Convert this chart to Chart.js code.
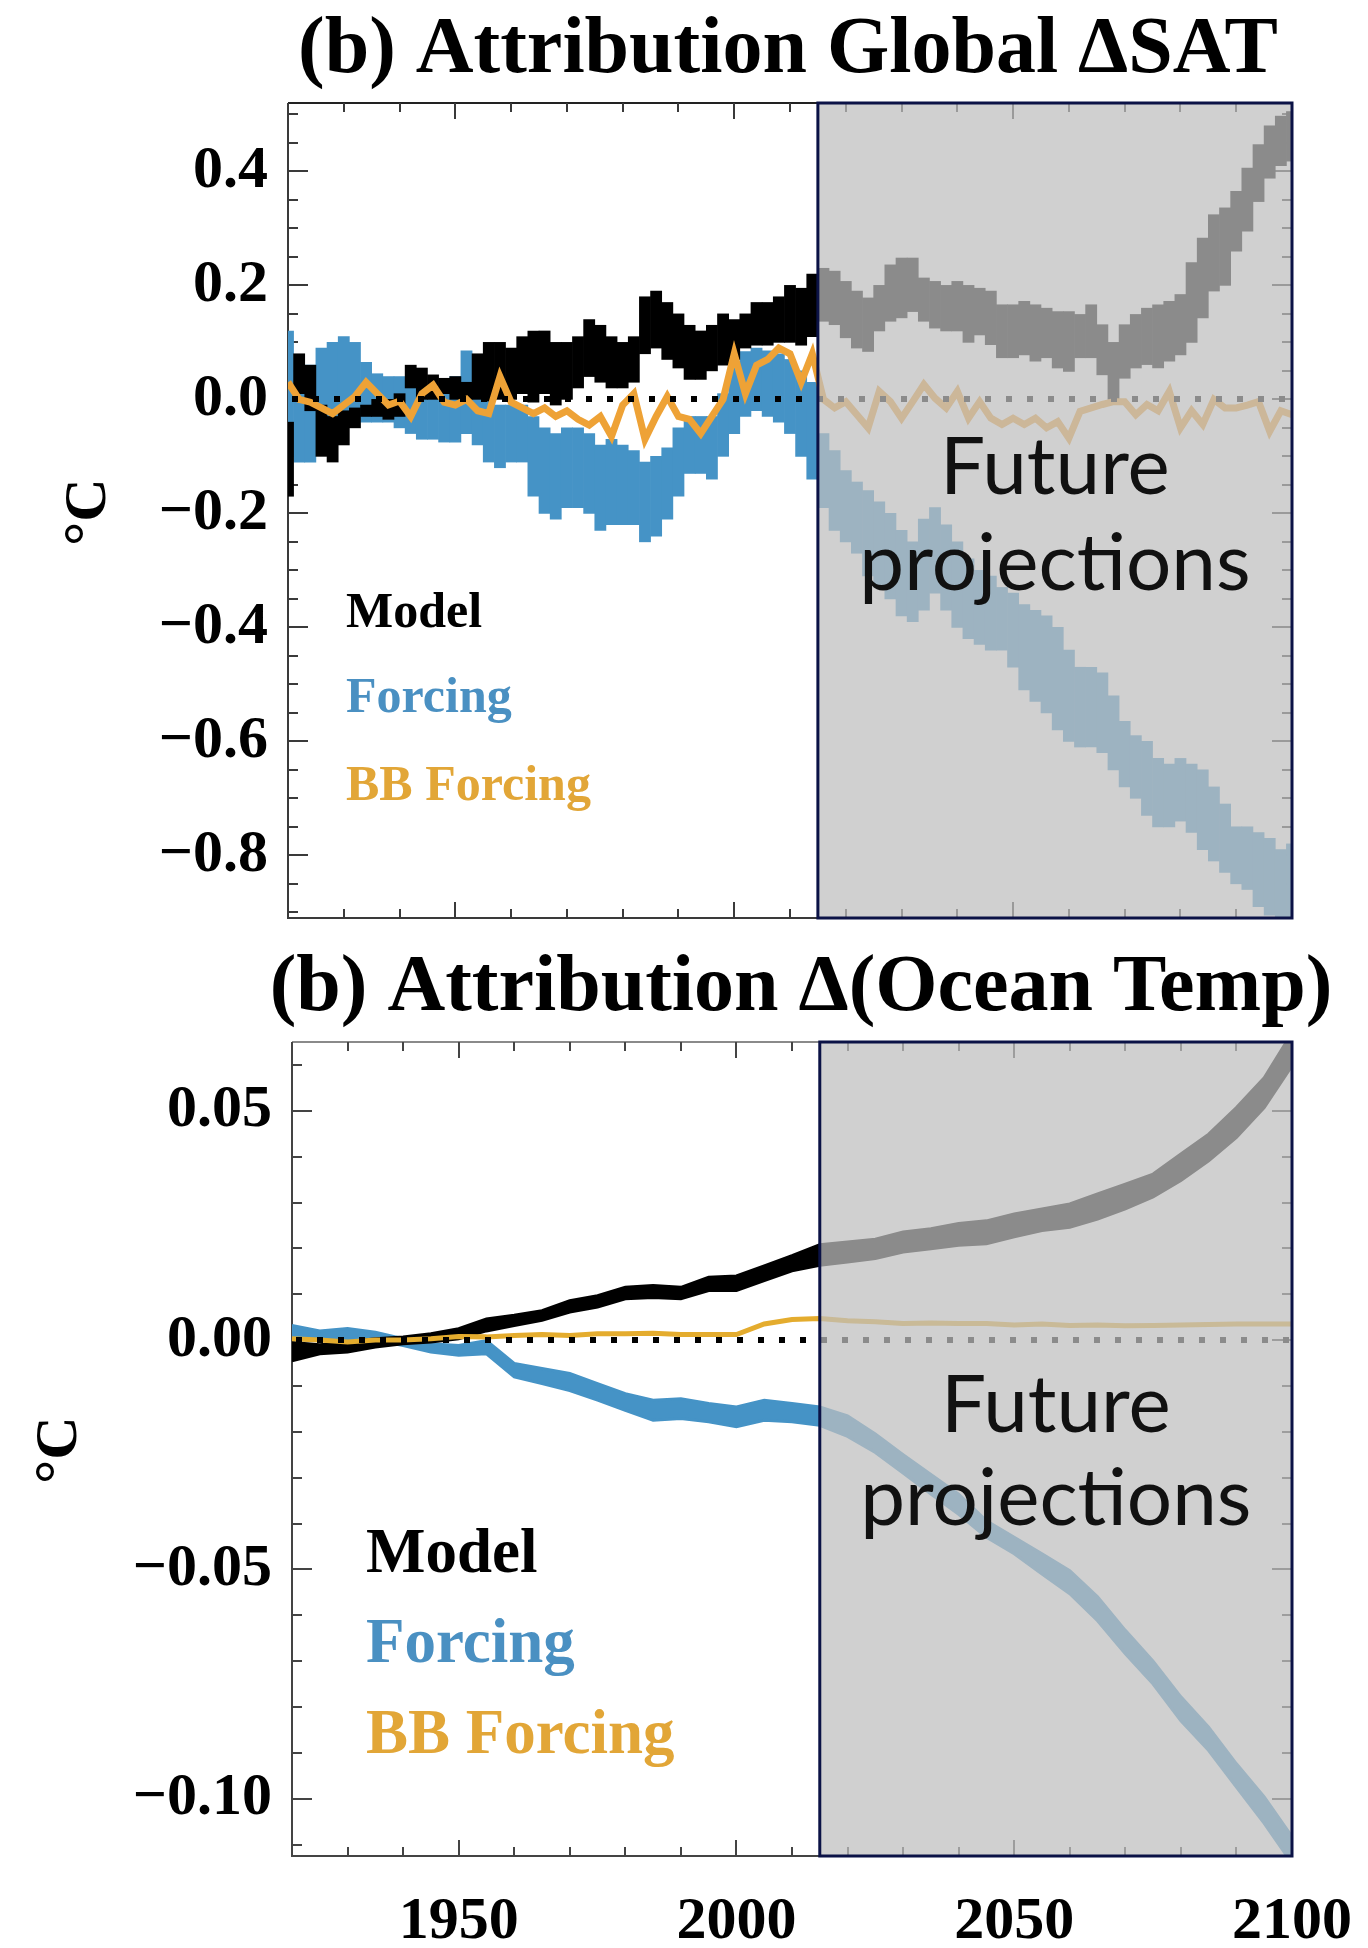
<!DOCTYPE html>
<html>
<head>
<meta charset="utf-8">
<title>Attribution Global ΔSAT and Δ(Ocean Temp)</title>
<script src="https://cdn.jsdelivr.net/npm/chart.js@4.4.1/dist/chart.umd.min.js"></script>
<style>
  html, body { margin: 0; padding: 0; background: #ffffff; }
  #page { position: relative; width: 1368px; height: 1948px; overflow: hidden; background: #ffffff; }
  #satCanvas { position: absolute; left: 0; top: 0; }
  #oceanCanvas { position: absolute; left: 0; top: 930px; }
</style>
</head>
<body>
<div id="page">
  <canvas id="satCanvas" width="1368" height="930"></canvas>
  <canvas id="oceanCanvas" width="1368" height="1018"></canvas>
</div>
<script>
// ---------- Global surface air temperature attribution (2-year steps, °C) ----------
const SAT_YEARS = [
  1920,1922,1924,1926,1928,1930,1932,1934,1936,1938,
  1940,1942,1944,1946,1948,1950,1952,1954,1956,1958,
  1960,1962,1964,1966,1968,1970,1972,1974,1976,1978,
  1980,1982,1984,1986,1988,1990,1992,1994,1996,1998,
  2000,2002,2004,2006,2008,2010,2012,2014,2016,2018,
  2020,2022,2024,2026,2028,2030,2032,2034,2036,2038,
  2040,2042,2044,2046,2048,2050,2052,2054,2056,2058,
  2060,2062,2064,2066,2068,2070,2072,2074,2076,2078,
  2080,2082,2084,2086,2088,2090,2092,2094,2096,2098,
  2100
];
const SAT_MODEL_LO = [
  -0.17, 0.01, -0.02, -0.10, -0.11, -0.08, -0.05, -0.03, -0.03, -0.035,
  -0.03, 0.02, 0.0, 0.0, 0.01, 0.0, 0.0, 0.0, -0.003, 0.0,
  0.0, 0.01, -0.005, 0.01, -0.01, 0.0, 0.02, 0.04, 0.03, 0.02,
  0.02, 0.03, 0.08, 0.09, 0.07, 0.055, 0.035, 0.035, 0.05, 0.06,
  0.07, 0.09, 0.095, 0.095, 0.10, 0.10, 0.095, 0.11, 0.137, 0.131,
  0.108, 0.09, 0.084, 0.12, 0.137, 0.143, 0.154, 0.137, 0.125, 0.12,
  0.12, 0.10, 0.113, 0.096, 0.073, 0.073, 0.078, 0.067, 0.073, 0.055,
  0.049, 0.073, 0.073, 0.043, 0.0, 0.037, 0.055, 0.061, 0.055, 0.067,
  0.078, 0.10, 0.143, 0.19, 0.20, 0.26, 0.295, 0.347, 0.388, 0.41,
  0.418
];
const SAT_MODEL_HI = [
  -0.04, 0.08, 0.06, -0.01, -0.03, -0.02, -0.015, -0.01, 0.0, 0.0,
  0.01, 0.06, 0.055, 0.043, 0.037, 0.04, 0.03, 0.08, 0.10, 0.10,
  0.09, 0.11, 0.12, 0.12, 0.10, 0.10, 0.11, 0.14, 0.13, 0.11,
  0.10, 0.11, 0.18, 0.19, 0.17, 0.15, 0.13, 0.12, 0.13, 0.15,
  0.14, 0.15, 0.17, 0.17, 0.18, 0.20, 0.195, 0.22, 0.23, 0.225,
  0.207, 0.19, 0.178, 0.20, 0.236, 0.248, 0.248, 0.213, 0.207, 0.20,
  0.207, 0.20, 0.195, 0.19, 0.166, 0.166, 0.172, 0.166, 0.160, 0.154,
  0.154, 0.149, 0.166, 0.131, 0.10, 0.131, 0.149, 0.16, 0.166, 0.172,
  0.184, 0.24, 0.283, 0.324, 0.336, 0.365, 0.406, 0.447, 0.48, 0.497,
  0.505
];
const SAT_FORCING_LO = [
  -0.10, -0.11, -0.11, -0.04, -0.04, -0.03, -0.03, -0.04, -0.04, -0.04,
  -0.05, -0.06, -0.07, -0.07, -0.075, -0.075, -0.06, -0.08, -0.11, -0.12,
  -0.11, -0.11, -0.17, -0.20, -0.21, -0.19, -0.19, -0.20, -0.23, -0.22,
  -0.22, -0.22, -0.25, -0.24, -0.21, -0.17, -0.13, -0.13, -0.14, -0.10,
  -0.06, -0.03, -0.02, -0.03, -0.04, -0.06, -0.10, -0.14, -0.19, -0.23,
  -0.25, -0.27, -0.31, -0.33, -0.35, -0.38, -0.39, -0.37, -0.34, -0.37,
  -0.40, -0.42, -0.43, -0.44, -0.44, -0.47, -0.51, -0.53, -0.55, -0.58,
  -0.60, -0.61, -0.61, -0.62, -0.65, -0.68, -0.70, -0.73, -0.75, -0.75,
  -0.74, -0.76, -0.79, -0.81, -0.83, -0.85, -0.86, -0.89, -0.905, -0.91,
  -0.91
];
const SAT_FORCING_HI = [
  0.12, 0.05, 0.06, 0.09, 0.10, 0.11, 0.10, 0.065, 0.045, 0.04,
  0.04, 0.03, 0.02, 0.02, 0.02, 0.04, 0.085, 0.04, 0.0, -0.01,
  -0.01, -0.01, -0.03, -0.05, -0.06, -0.05, -0.05, -0.06, -0.08, -0.07,
  -0.08, -0.09, -0.11, -0.10, -0.085, -0.05, -0.03, -0.03, -0.03, 0.01,
  0.055, 0.084, 0.09, 0.085, 0.08, 0.07, 0.05, 0.03, -0.06, -0.09,
  -0.125, -0.145, -0.16, -0.18, -0.20, -0.23, -0.25, -0.21, -0.19, -0.22,
  -0.25, -0.28, -0.30, -0.31, -0.33, -0.34, -0.36, -0.37, -0.38, -0.40,
  -0.44, -0.47, -0.47, -0.48, -0.52, -0.565, -0.59, -0.60, -0.63, -0.64,
  -0.63, -0.64, -0.65, -0.68, -0.71, -0.75, -0.75, -0.76, -0.77, -0.79,
  -0.78
];
const SAT_BB = [
  0.03, 0.0, -0.005, -0.015, -0.025, -0.01, 0.005, 0.03, 0.01, -0.01,
  -0.003, -0.03, 0.01, 0.025, -0.005, -0.01, 0.0, -0.02, -0.025, 0.04,
  -0.005, -0.015, -0.025, -0.015, -0.03, -0.02, -0.035, -0.045, -0.03, -0.065,
  -0.01, 0.01, -0.07, -0.03, 0.005, -0.03, -0.035, -0.06, -0.03, 0.0,
  0.08, 0.01, 0.06, 0.07, 0.09, 0.08, 0.03, 0.08, 0.0, -0.015,
  -0.004, -0.027, -0.05, 0.014, -0.004, -0.033, -0.004, 0.026, 0.002, -0.015,
  0.014, -0.033, -0.004, -0.033, -0.044, -0.033, -0.044, -0.033, -0.05, -0.039,
  -0.068, -0.021, -0.015, -0.009, -0.004, -0.004, -0.027, -0.009, -0.02, 0.014,
  -0.05, -0.02, -0.044, 0.0, -0.015, -0.015, -0.01, -0.004, -0.056, -0.02,
  -0.027
];
const SAT_Y_LABELS = [0.4, 0.2, 0.0, -0.2, -0.4, -0.6, -0.8];

// ---------- Ocean temperature attribution (5-year steps, °C) ----------
const OCN_YEARS = [
  1920,1925,1930,1935,1940,1945,1950,1955,1960,1965,
  1970,1975,1980,1985,1990,1995,2000,2005,2010,2015,
  2020,2025,2030,2035,2040,2045,2050,2055,2060,2065,
  2070,2075,2080,2085,2090,2095,2100
];
const OCN_MODEL_LO = [
  -0.0045, -0.003, -0.0026, -0.0015, -0.0008, -0.0004, 0.0003, 0.002, 0.0032, 0.0043,
  0.0061, 0.0072, 0.009, 0.0093, 0.009, 0.0108, 0.0108, 0.013, 0.0151, 0.0163,
  0.017, 0.0178, 0.0192, 0.0199, 0.0207, 0.021, 0.0225, 0.0239, 0.0246, 0.0264,
  0.0286, 0.0312, 0.0348, 0.0391, 0.0442, 0.0507, 0.0598
];
const OCN_MODEL_HI = [
  -0.0005, -0.001, -0.0004, 0.0003, 0.0007, 0.0014, 0.0025, 0.0046, 0.0054, 0.0064,
  0.0086, 0.0097, 0.0115, 0.0119, 0.0115, 0.0137, 0.014, 0.0162, 0.0184, 0.0208,
  0.0214, 0.022, 0.0236, 0.0243, 0.0254, 0.026, 0.0275, 0.0286, 0.0297, 0.0319,
  0.034, 0.0362, 0.0406, 0.0449, 0.0507, 0.0572, 0.067
];
const OCN_FORCING_LO = [
  0.0, 0.0, 0.0003, 0.0, -0.0012, -0.0026, -0.0033, -0.003, -0.008, -0.0095,
  -0.011, -0.0131, -0.0153, -0.0175, -0.0171, -0.0178, -0.0189, -0.0175, -0.0178, -0.0186,
  -0.021, -0.0245, -0.029, -0.0336, -0.038, -0.043, -0.0466, -0.051, -0.0553, -0.0612,
  -0.0684, -0.075, -0.083, -0.0895, -0.0975, -0.1054, -0.1141
];
const OCN_FORCING_HI = [
  0.0032, 0.002, 0.0025, 0.0017, 0.0003, -0.0008, -0.0012, -0.0001, -0.0051, -0.0062,
  -0.0073, -0.0095, -0.0117, -0.0131, -0.0128, -0.0138, -0.0146, -0.0131, -0.0138, -0.0146,
  -0.0165, -0.0205, -0.025, -0.0293, -0.0336, -0.0394, -0.043, -0.0466, -0.0503, -0.056,
  -0.0633, -0.07, -0.0778, -0.0844, -0.0924, -0.0996, -0.1083
];
const OCN_BB = [
  0.0003, 0.0, -0.0004, 0.0, 0.0, 0.0003, 0.0008, 0.0007, 0.001, 0.0012,
  0.001, 0.0014, 0.0014, 0.0015, 0.0012, 0.0012, 0.0012, 0.0035, 0.0045, 0.0047,
  0.0042, 0.004, 0.0036, 0.0037, 0.0036, 0.0036, 0.0033, 0.0035, 0.0032, 0.0033,
  0.0031, 0.0032, 0.0033, 0.0034, 0.0035, 0.0035, 0.0035
];
const OCN_Y_LABELS = [0.05, 0.0, -0.05, -0.10];

// ---------- shared ----------
const SERIES_NAMES = ['Model', 'Forcing', 'BB Forcing'];
const X_LABEL_YEARS = [1950, 2000, 2050, 2100];
const FUTURE_START = 2015;
const FUTURE_LINES = ['Future', 'projections'];

const COLORS = {
  model: '#000000',
  forcing: '#4593c6',
  bbSat: '#eea236',
  bbOcean: '#e4ac2e',
  forcingText: '#4a90c2',
  bbText: '#e2a637'
};
const SERIF = '"Liberation Serif", "Times New Roman", serif';

function fmt(v, digits) {
  return (v < -1e-9 ? '\u2212' : '') + Math.abs(v).toFixed(digits);
}

// positions of the inward tick marks along an axis
function tickMarks(lo, hi, step, majorEvery) {
  const out = [];
  for (let k = Math.ceil(lo / step - 1e-9); k * step <= hi + 1e-9; k++) {
    out.push({ v: k * step, major: k % majorEvery === 0 });
  }
  return out;
}

// frame, inward ticks, zero line, shaded future period and all annotation text
function makeDecor(p) {
  return {
    id: 'decor_' + p.id,
    beforeDatasetsDraw(chart) {
      const { ctx, chartArea: a, scales: { x, y } } = chart;
      const xf = x.getPixelForValue(FUTURE_START);
      ctx.save();
      ctx.lineWidth = 2;
      ctx.strokeStyle = p.axisColor;
      ctx.beginPath();
      ctx.moveTo(a.left, a.top); ctx.lineTo(a.left, a.bottom);
      ctx.lineTo(xf, a.bottom);
      ctx.stroke();
      ctx.strokeStyle = p.topColor;
      ctx.beginPath();
      ctx.moveTo(a.left, a.top); ctx.lineTo(xf, a.top);
      ctx.stroke();

      ctx.strokeStyle = p.tickColor;
      ctx.lineWidth = 2;
      ctx.beginPath();
      p.yTicks.forEach(t => {
        const py = Math.round(y.getPixelForValue(t.v));
        if (py < a.top || py > a.bottom) return;
        const len = t.major ? 20 : 10;
        ctx.moveTo(a.left, py); ctx.lineTo(a.left + len, py);
        ctx.moveTo(a.right, py); ctx.lineTo(a.right - len, py);
      });
      p.xTicks.forEach(t => {
        const px = Math.round(x.getPixelForValue(t.v));
        const len = t.major ? 16 : 9;
        ctx.moveTo(px, a.top); ctx.lineTo(px, a.top + len);
        ctx.moveTo(px, a.bottom); ctx.lineTo(px, a.bottom - len);
      });
      ctx.stroke();
      ctx.restore();
    },
    afterDatasetsDraw(chart) {
      const { ctx, chartArea: a, scales: { x, y } } = chart;
      const xf = x.getPixelForValue(FUTURE_START);
      ctx.save();
      // dotted zero reference
      const y0 = Math.round(y.getPixelForValue(0));
      ctx.strokeStyle = '#000';
      ctx.lineWidth = 6;
      ctx.setLineDash([6, 15]);
      ctx.beginPath();
      ctx.moveTo(a.left + 4, y0); ctx.lineTo(a.right, y0);
      ctx.stroke();
      ctx.setLineDash([]);

      // translucent veil over the projection period
      ctx.fillStyle = 'rgba(190,190,190,0.73)';
      ctx.fillRect(xf, a.top, a.right - xf, a.bottom - a.top);
      ctx.strokeStyle = '#0b1246';
      ctx.lineWidth = 3;
      ctx.strokeRect(xf, a.top, a.right - xf, a.bottom - a.top);

      ctx.fillStyle = '#111';
      ctx.font = '400 ' + p.futureSize + 'px Lato, "Open Sans", sans-serif';
      ctx.textAlign = 'center';
      ctx.textBaseline = 'alphabetic';
      const cx = (xf + a.right) / 2;
      FUTURE_LINES.forEach((s, i) => ctx.fillText(s, cx, p.futureY[i]));
      ctx.restore();
    },
    afterDraw(chart) {
      const { ctx } = chart;
      ctx.save();
      ctx.fillStyle = '#000';
      ctx.textAlign = 'center';
      ctx.textBaseline = 'alphabetic';
      ctx.font = 'bold 80px ' + SERIF;
      ctx.fillText(p.title, p.titleX, p.titleY);

      ctx.save();
      ctx.translate(p.unitX, p.unitY);
      ctx.rotate(-Math.PI / 2);
      ctx.font = 'bold 60px ' + SERIF;
      ctx.fillText('\u00B0C', 0, 0);
      ctx.restore();

      ctx.textAlign = 'left';
      ctx.font = 'bold ' + p.legendSize + 'px ' + SERIF;
      const legendColors = [COLORS.model, COLORS.forcingText, COLORS.bbText];
      SERIES_NAMES.forEach((name, i) => {
        ctx.fillStyle = legendColors[i];
        ctx.fillText(name, p.legendX, p.legendY[i]);
      });
      ctx.restore();
    }
  };
}

const tickFont = { family: SERIF, weight: 'bold', size: 60 };
const common = {
  responsive: false,
  animation: false,
  devicePixelRatio: 1,
  events: [],
  plugins: { legend: { display: false }, tooltip: { enabled: false }, title: { display: false } }
};
// fixed axis boxes so the plotting area lands exactly where it should
const fixY = w => function (s) { s.width = w; s.paddingTop = 0; s.paddingBottom = 0; };
const fixX = h => function (s) { s.height = h; s.paddingLeft = 0; s.paddingRight = 0; };

// ---------- panel 1: Global ΔSAT ----------
const satBand = (lo, hi) => SAT_YEARS.map((yr, i) => ({ x: yr, y: [lo[i], hi[i]] }));
new Chart(document.getElementById('satCanvas'), {
  type: 'bar',
  data: {
    datasets: [
      { type: 'bar', label: SERIES_NAMES[1], data: satBand(SAT_FORCING_LO, SAT_FORCING_HI),
        backgroundColor: COLORS.forcing, grouped: false, barPercentage: 1, categoryPercentage: 1, order: 5 },
      { type: 'bar', label: SERIES_NAMES[0], data: satBand(SAT_MODEL_LO, SAT_MODEL_HI),
        backgroundColor: COLORS.model, grouped: false, barPercentage: 1, categoryPercentage: 1, order: 4 },
      { type: 'line', label: SERIES_NAMES[2], data: SAT_YEARS.map((yr, i) => ({ x: yr, y: SAT_BB[i] })),
        borderColor: COLORS.bbSat, borderWidth: 7, pointRadius: 0, tension: 0, fill: false, order: 2,
        borderJoinStyle: 'miter' }
    ]
  },
  options: Object.assign({}, common, {
    layout: { padding: { top: 103, right: 76, bottom: 0, left: 0 } },
    scales: {
      x: {
        type: 'linear', min: 1920, max: 2100, offset: false,
        grid: { display: false, drawTicks: false }, border: { display: false },
        ticks: { display: false },
        afterFit: fixX(12)
      },
      y: {
        type: 'linear', min: -0.91, max: 0.52,
        grid: { display: false, drawTicks: false }, border: { display: false },
        afterFit: fixY(288),
        afterBuildTicks(s) { s.ticks = SAT_Y_LABELS.map(v => ({ value: v })); },
        ticks: { color: '#000', padding: 20, font: tickFont, callback: v => fmt(v, 1) }
      }
    }
  }),
  plugins: [makeDecor({
    id: 'sat',
    title: '(b) Attribution Global \u0394SAT', titleX: 788, titleY: 72,
    unitX: 105, unitY: 512,
    legendX: 346, legendY: [627, 712, 800], legendSize: 50,
    futureY: [494, 590], futureSize: 80,
    axisColor: '#3a3a3a', topColor: '#222', tickColor: '#3a3a3a',
    yTicks: tickMarks(-0.91, 0.52, 0.05, 4),
    xTicks: tickMarks(1920, 2100, 10, 5)
  })]
});

// ---------- panel 2: Δ(Ocean Temp) ----------
const ocnPts = arr => OCN_YEARS.map((yr, i) => ({ x: yr, y: arr[i] }));
const bandEdge = { borderWidth: 3, pointRadius: 0, tension: 0 };
new Chart(document.getElementById('oceanCanvas'), {
  type: 'line',
  data: {
    datasets: [
      Object.assign({ label: SERIES_NAMES[1] + ' low', data: ocnPts(OCN_FORCING_LO), borderColor: COLORS.forcing,
        backgroundColor: COLORS.forcing, fill: false, order: 5 }, bandEdge),
      Object.assign({ label: SERIES_NAMES[1], data: ocnPts(OCN_FORCING_HI), borderColor: COLORS.forcing,
        backgroundColor: COLORS.forcing, fill: '-1', order: 5 }, bandEdge),
      Object.assign({ label: SERIES_NAMES[0] + ' low', data: ocnPts(OCN_MODEL_LO), borderColor: COLORS.model,
        backgroundColor: COLORS.model, fill: false, order: 4 }, bandEdge),
      Object.assign({ label: SERIES_NAMES[0], data: ocnPts(OCN_MODEL_HI), borderColor: COLORS.model,
        backgroundColor: COLORS.model, fill: '-1', order: 4 }, bandEdge),
      { label: SERIES_NAMES[2], data: ocnPts(OCN_BB), borderColor: COLORS.bbOcean, borderWidth: 5,
        pointRadius: 0, tension: 0, fill: false, order: 2 }
    ]
  },
  options: Object.assign({}, common, {
    layout: { padding: { top: 112, right: 76, bottom: 0, left: 0 } },
    scales: {
      x: {
        type: 'linear', min: 1920, max: 2100, offset: false,
        grid: { display: false, drawTicks: false }, border: { display: false },
        afterFit: fixX(92),
        afterBuildTicks(s) { s.ticks = X_LABEL_YEARS.map(v => ({ value: v })); },
        ticks: { color: '#000', padding: 30, font: tickFont, maxRotation: 0, autoSkip: false,
          callback: v => String(v) }
      },
      y: {
        type: 'linear', min: -0.1125, max: 0.065,
        grid: { display: false, drawTicks: false }, border: { display: false },
        afterFit: fixY(292),
        afterBuildTicks(s) { s.ticks = OCN_Y_LABELS.map(v => ({ value: v })); },
        ticks: { color: '#000', padding: 20, font: tickFont, callback: v => fmt(v, 2) }
      }
    }
  }),
  plugins: [makeDecor({
    id: 'ocean',
    title: '(b) Attribution \u0394(Ocean Temp)', titleX: 801, titleY: 80,
    unitX: 76, unitY: 520,
    legendX: 366, legendY: [642, 732, 823], legendSize: 63,
    futureY: [502, 595], futureSize: 80,
    axisColor: '#444', topColor: '#8a8a8a', tickColor: '#444',
    yTicks: tickMarks(-0.1125, 0.065, 0.01, 5),
    xTicks: tickMarks(1920, 2100, 10, 5)
  })]
});
</script>
</body>
</html>
